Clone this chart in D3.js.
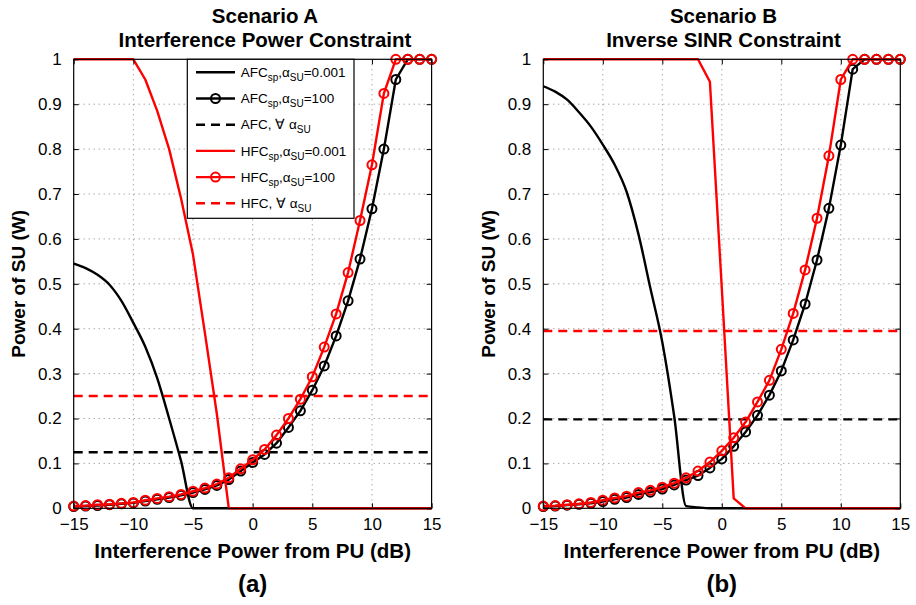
<!DOCTYPE html>
<html>
<head>
<meta charset="utf-8">
<script src="https://cdn.jsdelivr.net/npm/d3@7"></script>
<style>
  body { margin: 0; background: #fff; }
  svg { display: block; font-family: "Liberation Sans", Arial, Helvetica, sans-serif; }
</style>
</head>
<body>
<svg id="canvas" width="916" height="605"></svg>
<script>
'use strict';

// interference power from the PU (dB), one value per plotted point
var dbValues = [-15, -14, -13, -12, -11, -10, -9, -8, -7, -6, -5, -4, -3, -2, -1,
                0, 1, 2, 3, 4, 5, 6, 7, 8, 9, 10, 11, 12, 13, 14, 15];

/* Scenario A - interference power constraint */
var afcLowA  = [0.545, 0.535, 0.52, 0.498, 0.462, 0.413, 0.36, 0.29, 0.20, 0.105, 0,
                0, 0, 0, 0, 0, 0, 0, 0, 0, 0, 0, 0, 0, 0, 0, 0, 0, 0, 0, 0];
var afcHighA = [0.004, 0.005, 0.006, 0.008, 0.010, 0.012, 0.016, 0.020, 0.024, 0.029, 0.035,
                0.042, 0.051, 0.064, 0.083, 0.102, 0.120, 0.145, 0.180, 0.217, 0.263,
                0.317, 0.384, 0.462, 0.555, 0.667, 0.800, 0.955, 1, 1, 1];
var hfcLowA  = [1, 1, 1, 1, 1, 1, 0.955, 0.885, 0.80, 0.69, 0.565, 0.39, 0.21, 0,
                0, 0, 0, 0, 0, 0, 0, 0, 0, 0, 0, 0, 0, 0, 0, 0, 0];
var hfcHighA = [0.005, 0.006, 0.008, 0.009, 0.011, 0.013, 0.018, 0.022, 0.026, 0.031, 0.038,
                0.045, 0.054, 0.068, 0.088, 0.108, 0.131, 0.163, 0.200, 0.243, 0.293,
                0.359, 0.433, 0.525, 0.641, 0.765, 0.924, 1, 1, 1, 1];
var afcFlatA = 0.125;
var hfcFlatA = 0.25;

/* Scenario B - inverse SINR constraint */
var afcLowB  = [0.94, 0.928, 0.91, 0.882, 0.85, 0.81, 0.765, 0.705, 0.61, 0.49, 0.37, 0.205, 0.005, 0.002,
                0, 0, 0, 0, 0, 0, 0, 0, 0, 0, 0, 0, 0, 0, 0, 0, 0];
var afcHighB = [0.004, 0.005, 0.007, 0.009, 0.011, 0.015, 0.020, 0.024, 0.031, 0.036, 0.043,
                0.052, 0.063, 0.073, 0.090, 0.110, 0.138, 0.170, 0.207, 0.252, 0.306,
                0.375, 0.455, 0.553, 0.668, 0.809, 0.978, 1, 1, 1, 1];
var hfcLowB  = [1, 1, 1, 1, 1, 1, 1, 1, 1, 1, 1, 1, 1, 1, 0.95, 0.49, 0.022,
                0, 0, 0, 0, 0, 0, 0, 0, 0, 0, 0, 0, 0, 0];
var hfcHighB = [0.005, 0.006, 0.008, 0.010, 0.013, 0.018, 0.023, 0.027, 0.035, 0.040, 0.047,
                0.056, 0.068, 0.083, 0.103, 0.128, 0.157, 0.192, 0.237, 0.285, 0.354,
                0.434, 0.531, 0.646, 0.785, 0.955, 1, 1, 1, 1, 1];
var afcFlatB = 0.198;
var hfcFlatB = 0.395;

var xTicks = [-15, -10, -5, 0, 5, 10, 15];
var yTicks = [0, 0.1, 0.2, 0.3, 0.4, 0.5, 0.6, 0.7, 0.8, 0.9, 1];

var legendLabels = [
  [['AFC'], ['sp', 'sub'], [','], ['\u03B1'], ['SU', 'sub'], ['=0.001']],
  [['AFC'], ['sp', 'sub'], [','], ['\u03B1'], ['SU', 'sub'], ['=100']],
  [['AFC, \u2200 \u03B1'], ['SU', 'sub']],
  [['HFC'], ['sp', 'sub'], [','], ['\u03B1'], ['SU', 'sub'], ['=0.001']],
  [['HFC'], ['sp', 'sub'], [','], ['\u03B1'], ['SU', 'sub'], ['=100']],
  [['HFC, \u2200 \u03B1'], ['SU', 'sub']]
];

var RED = '#ff0000';
var BLACK = '#000000';
var top0 = 59.3, bottom0 = 508.3;

var panels = [
  { left: 73.7, right: 431.6, titleX: 265, tag: '(a)',
    title: ['Scenario A', 'Interference Power Constraint'],
    afcLow: afcLowA, afcHigh: afcHighA, afcFlat: afcFlatA,
    hfcLow: hfcLowA, hfcHigh: hfcHighA, hfcFlat: hfcFlatA, legend: true },
  { left: 543.3, right: 900.3, titleX: 723.5, tag: '(b)',
    title: ['Scenario B', 'Inverse SINR Constraint'],
    afcLow: afcLowB, afcHigh: afcHighB, afcFlat: afcFlatB,
    hfcLow: hfcLowB, hfcHigh: hfcHighB, hfcFlat: hfcFlatB, legend: false }
];

var svg = d3.select('svg#canvas');

panels.forEach(function(p){
  var x = d3.scaleLinear().domain([-15, 15]).range([p.left, p.right]);
  var y = d3.scaleLinear().domain([0, 1]).range([bottom0, top0]);
  var g = svg.append('g');
  var w = p.right - p.left, h = bottom0 - top0;

  /* dotted grid */
  g.append('g').selectAll('line.vg')
    .data(xTicks.slice(1, -1)).join('line')
      .attr('x1', d => x(d)).attr('x2', d => x(d))
      .attr('y1', top0).attr('y2', bottom0)
      .attr('stroke', '#777').attr('stroke-width', 0.9)
      .attr('stroke-dasharray', '1,4');
  g.append('g').selectAll('line.hg')
    .data(yTicks.slice(1, -1)).join('line')
      .attr('x1', p.left).attr('x2', p.right)
      .attr('y1', d => y(d)).attr('y2', d => y(d))
      .attr('stroke', '#777').attr('stroke-width', 0.9)
      .attr('stroke-dasharray', '1,4');

  function curve(vals, color, markers, smooth){
    var line = d3.line().x((d, i) => x(dbValues[i])).y(d => y(d))
      .curve(smooth ? d3.curveMonotoneX : d3.curveLinear);
    g.append('path').datum(vals)
      .attr('d', line).attr('fill', 'none')
      .attr('stroke', color).attr('stroke-width', 2.4)
      .attr('stroke-linejoin', 'round');
    if(markers){
      g.append('g').selectAll('circle')
        .data(vals).join('circle')
          .attr('cx', (d, i) => x(dbValues[i])).attr('cy', d => y(d))
          .attr('r', 4.5).attr('fill', 'none')
          .attr('stroke', color).attr('stroke-width', 2);
    }
  }
  function flat(v, color){
    g.append('line')
      .attr('x1', x(-15)).attr('x2', x(15))
      .attr('y1', y(v)).attr('y2', y(v))
      .attr('stroke', color).attr('stroke-width', 2.4)
      .attr('stroke-dasharray', '9,6');
  }

  curve(p.afcLow, BLACK, false, true);
  curve(p.afcHigh, BLACK, true, false);
  flat(p.afcFlat, BLACK);
  curve(p.hfcLow, RED, false, false);
  curve(p.hfcHigh, RED, true, false);
  flat(p.hfcFlat, RED);

  /* axes with inward ticks on all four sides */
  g.append('g').attr('transform', 'translate(0,' + bottom0 + ')')
    .call(d3.axisBottom(x).tickValues(xTicks).tickSize(-5).tickPadding(10).tickSizeOuter(0))
    .call(a => a.select('.domain').remove())
    .selectAll('text').attr('font-size', 17).attr('font-family', null);
  g.append('g').attr('transform', 'translate(0,' + top0 + ')')
    .call(d3.axisTop(x).tickValues(xTicks).tickSize(-5).tickFormat('').tickSizeOuter(0))
    .call(a => a.select('.domain').remove());
  g.append('g').attr('transform', 'translate(' + p.left + ',0)')
    .call(d3.axisLeft(y).tickValues(yTicks).tickSize(-5).tickPadding(12).tickSizeOuter(0)
      .tickFormat(d3.format('~g')))
    .call(a => a.select('.domain').remove())
    .selectAll('text').attr('font-size', 17).attr('font-family', null);
  g.append('g').attr('transform', 'translate(' + p.right + ',0)')
    .call(d3.axisRight(y).tickValues(yTicks).tickSize(-5).tickFormat('').tickSizeOuter(0))
    .call(a => a.select('.domain').remove());
  g.append('rect')
    .attr('x', p.left).attr('y', top0).attr('width', w).attr('height', h)
    .attr('fill', 'none').attr('stroke', '#000').attr('stroke-width', 1.2);

  /* titles and labels */
  var cx = (p.left + p.right) / 2;
  g.append('text').attr('x', p.titleX).attr('y', 23.3)
    .attr('text-anchor', 'middle').attr('font-weight', 'bold').attr('font-size', 20.5)
    .text(p.title[0]);
  g.append('text').attr('x', p.titleX).attr('y', 46.8)
    .attr('text-anchor', 'middle').attr('font-weight', 'bold').attr('font-size', 20.5)
    .text(p.title[1]);
  g.append('text').attr('x', cx).attr('y', 558)
    .attr('text-anchor', 'middle').attr('font-weight', 'bold').attr('font-size', 20.5)
    .text('Interference Power from PU (dB)');
  g.append('text').attr('x', cx).attr('y', 592)
    .attr('text-anchor', 'middle').attr('font-weight', 'bold').attr('font-size', 24)
    .text(p.tag);
  g.append('text')
    .attr('transform', 'translate(' + (p.left - 48.6) + ',' + ((top0 + bottom0) / 2) + ') rotate(-90)')
    .attr('text-anchor', 'middle').attr('font-weight', 'bold').attr('font-size', 19)
    .text('Power of SU (W)');

  if(p.legend){
    var lx = 187.3, ly = top0, lw = 166.7, lh = 159;
    var lg = g.append('g');
    lg.append('rect').attr('x', lx).attr('y', ly).attr('width', lw).attr('height', lh)
      .attr('fill', '#fff').attr('stroke', '#000').attr('stroke-width', 1.2);
    var styles = [
      {c: BLACK, m: false, dash: null}, {c: BLACK, m: true, dash: null}, {c: BLACK, m: false, dash: '9,6'},
      {c: RED, m: false, dash: null}, {c: RED, m: true, dash: null}, {c: RED, m: false, dash: '9,6'}
    ];
    legendLabels.forEach(function(parts, i){
      var ry = 72.3 + i * 26.2;
      var s = styles[i];
      lg.append('line').attr('x1', 196).attr('x2', 235).attr('y1', ry).attr('y2', ry)
        .attr('stroke', s.c).attr('stroke-width', 2.4).attr('stroke-dasharray', s.dash);
      if(s.m){
        lg.append('circle').attr('cx', 215.5).attr('cy', ry).attr('r', 4.5)
          .attr('fill', 'none').attr('stroke', s.c).attr('stroke-width', 2);
      }
      var t = lg.append('text').attr('x', 240.7).attr('y', ry + 4.7).attr('font-size', 13.5);
      var sub = false;
      parts.forEach(function(pt){
        var isSub = pt[1] === 'sub';
        var dy = isSub && !sub ? 4 : (!isSub && sub ? -4 : 0);
        t.append('tspan').attr('dy', dy).attr('font-size', isSub ? 10 : 13.5).text(pt[0]);
        sub = isSub;
      });
    });
  }
});
</script>
</body>
</html>
